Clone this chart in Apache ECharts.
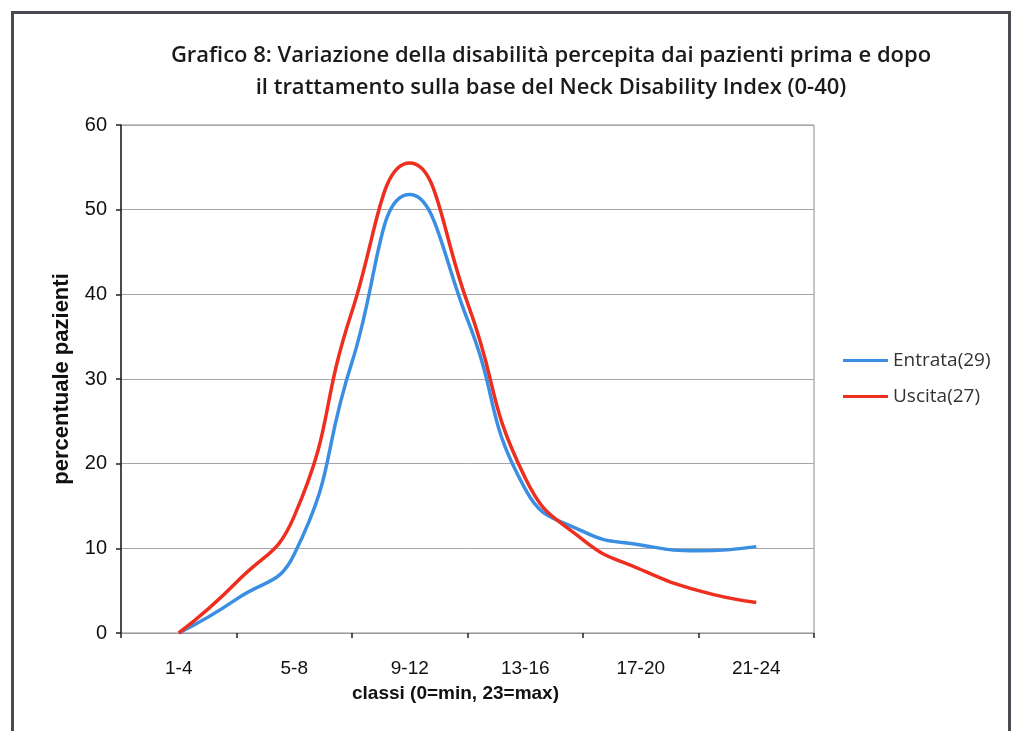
<!DOCTYPE html>
<html>
<head>
<meta charset="utf-8">
<script src="https://cdn.jsdelivr.net/npm/echarts@6/dist/echarts.min.js"></script>
<style>
html,body{margin:0;padding:0;background:#fff;}
#chart{width:1012px;height:731px;}
</style>
</head>
<body>
<div id="chart"></div>
<script>
// Category labels on the visible axis
const categories = ['1-4', '5-8', '9-12', '13-16', '17-20', '21-24'];
// Sample positions (category centres and the boundaries between them)
const samplePoints = ['start', '1-4', '4|5', '5-8', '8|9', '9-12', '12|13', '13-16', '16|17', '17-20', '20|21', '21-24', 'end'];
// Series values (percent of patients)
const entrata = [null, 0, 4.0, 9.3, 32, 51.8, 37, 17, 12.0, 10.4, 9.7, 10.2, null];
const uscita  = [null, 0, 6.0, 13.8, 38, 55.5, 39, 18.3, 11.0, 7.5, 5.0, 3.6, null];
const yTicks = [0, 10, 20, 30, 40, 50, 60];

const chart = echarts.init(document.getElementById('chart'), null, {renderer: 'canvas'});
const option = {
  backgroundColor: '#ffffff',
  animation: false,
  title: {
    text: 'Grafico 8: Variazione della disabilità percepita dai pazienti prima e dopo\nil trattamento sulla base del Neck Disability Index (0-40)',
    left: 546,
    top: 35,
    textAlign: 'center',
    textStyle: {
      fontFamily: 'Open Sans',
      fontWeight: 600,
      fontSize: 22,
      lineHeight: 32,
      color: '#1a1a1a'
    }
  },
  legend: {
    orient: 'vertical',
    left: 838,
    top: 346,
    icon: 'rect',
    itemWidth: 45,
    itemHeight: 3,
    itemGap: 17,
    textStyle: {fontFamily: 'Open Sans', fontSize: 19, color: '#333'},
    data: ['Entrata(29)', 'Uscita(27)']
  },
  grid: {
    left: 121, right: 198, top: 125, bottom: 98,
    show: true,
    borderColor: '#8a8a90',
    borderWidth: 1
  },
  xAxis: [
    {
      type: 'category',
      data: categories,
      boundaryGap: true,
      axisLine: {show: true, lineStyle: {color: '#9a9aa0', width: 1}},
      axisTick: {show: true, length: 5, inside: false, lineStyle: {color: '#222', width: 1.5}},
      axisLabel: {fontFamily: 'Liberation Sans', fontSize: 19, color: '#111', margin: 26},
      name: 'classi (0=min, 23=max)',
      nameLocation: 'middle',
      nameGap: 51,
      nameTextStyle: {fontFamily: 'Liberation Sans', fontWeight: 'bold', fontSize: 19, color: '#111', padding: [0, 24, 0, 0]}
    },
    {
      type: 'category',
      data: samplePoints,
      boundaryGap: false,
      show: false
    }
  ],
  yAxis: {
    type: 'value',
    min: 0,
    max: 60,
    interval: 10,
    axisLine: {show: true, lineStyle: {color: '#222', width: 1.5}},
    axisTick: {show: true, length: 5, lineStyle: {color: '#222', width: 1.5}},
    axisLabel: {fontFamily: 'Liberation Sans', fontSize: 20, color: '#111', margin: 14,
      formatter: function (v) { return yTicks.indexOf(v) >= 0 ? String(v) : ''; }},
    splitLine: {show: true, lineStyle: {color: '#a4a4ac', width: 1}},
    name: 'percentuale pazienti',
    nameLocation: 'middle',
    nameGap: 48,
    nameRotate: 90,
    nameTextStyle: {fontFamily: 'Liberation Sans', fontWeight: 'bold', fontSize: 22, color: '#111'}
  },
  series: [
    {
      name: 'Entrata(29)',
      type: 'line',
      xAxisIndex: 1,
      data: entrata,
      smooth: 0.5,
      showSymbol: false,
      symbol: 'none',
      lineStyle: {color: '#3b8fe2', width: 3.5},
      itemStyle: {color: '#3b8fe2'}
    },
    {
      name: 'Uscita(27)',
      type: 'line',
      xAxisIndex: 1,
      data: uscita,
      smooth: 0.5,
      showSymbol: false,
      symbol: 'none',
      lineStyle: {color: '#ee2f1f', width: 3.5},
      itemStyle: {color: '#ee2f1f'}
    }
  ],
  graphic: [
    {
      type: 'rect',
      left: 10, top: 10,
      shape: {width: 997, height: 760},
      style: {fill: 'none', stroke: '#4a4a50', lineWidth: 3},
      silent: true
    }
  ]
};
chart.setOption(option);
</script>
</body>
</html>
